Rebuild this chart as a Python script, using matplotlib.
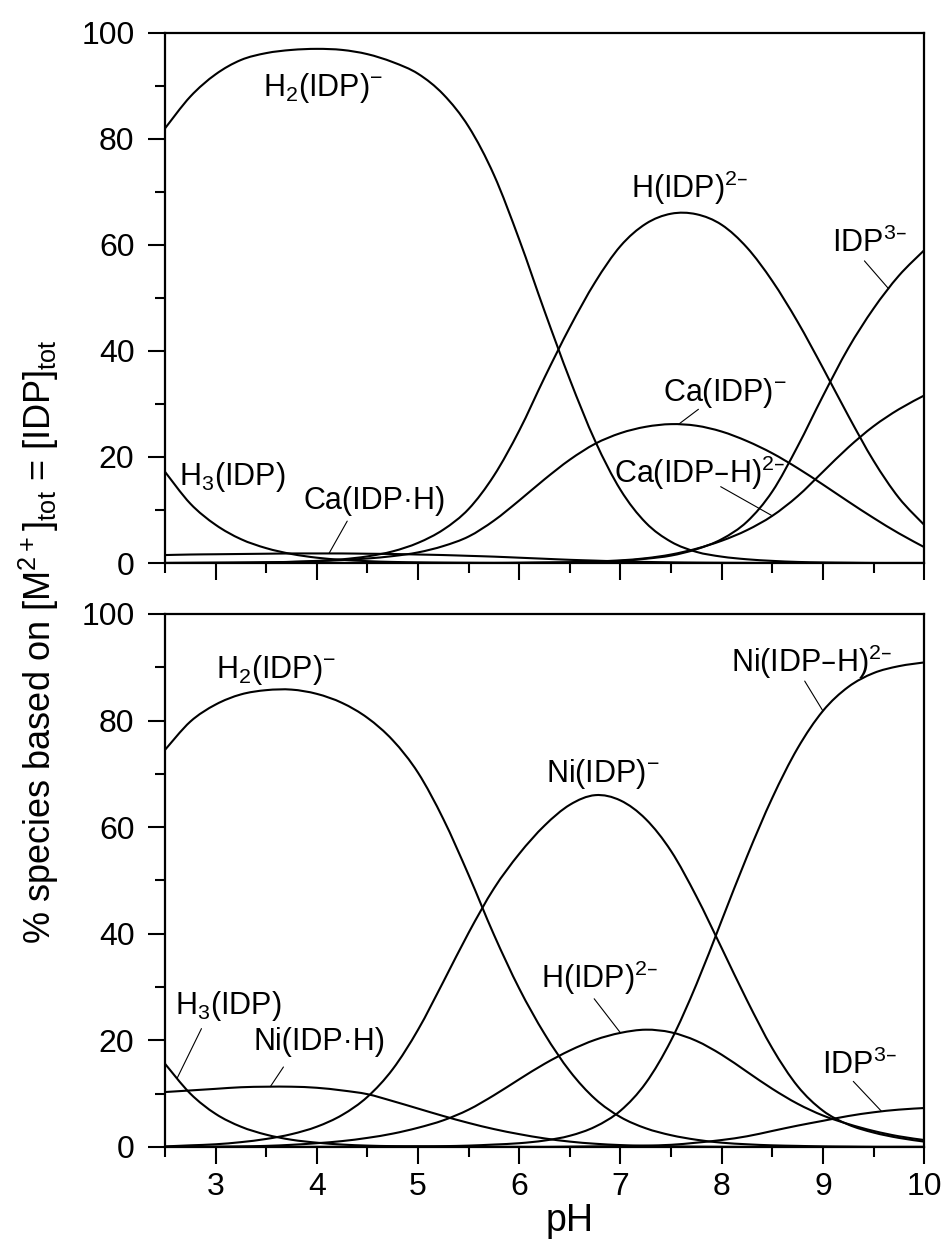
import numpy as np
import matplotlib
matplotlib.use("Agg")
import matplotlib.pyplot as plt
from matplotlib.path import Path
from matplotlib.patches import PathPatch
from matplotlib.ticker import MultipleLocator

plt.rcParams['font.family'] = ['Liberation Sans', 'DejaVu Sans']
plt.rcParams['mathtext.default'] = 'regular'

# pH sampling grid (2.5 ... 10.0 in steps of 0.25)
ph = np.linspace(2.5, 10.0, 31)

# ---- Ca2+ / IDP system: % species ----
ca_h3l = [17.2, 11.2, 7.2, 4.5, 2.8, 1.7, 1.0, 0.6, 0.35, 0.2, 0.12, 0.07, 0.04, 0.02, 0.01,
          0, 0, 0, 0, 0, 0, 0, 0, 0, 0, 0, 0, 0, 0, 0, 0]
ca_h2l = [82.0, 88.0, 92.2, 94.9, 96.2, 96.8, 97.0, 96.8, 96.0, 94.5, 92.3, 88.4, 82.3, 73.2,
          61.0, 47.5, 34.6, 23.0, 13.8, 7.6, 4.0, 2.1, 1.2, 0.7, 0.4, 0.2, 0.1, 0.05, 0, 0, 0]
ca_hl = [0.0, 0.02, 0.04, 0.07, 0.12, 0.22, 0.4, 0.7, 1.25, 2.2, 3.8, 6.3, 10.2, 16.5, 25.0,
         35.0, 44.5, 53.0, 59.8, 64.0, 65.9, 65.8, 63.8, 59.5, 53.2, 45.5, 36.8, 27.8, 19.3,
         12.3, 7.2]
ca_l = [0, 0, 0, 0, 0, 0, 0, 0, 0, 0, 0, 0, 0, 0, 0,
        0.05, 0.1, 0.2, 0.4, 0.8, 1.4, 2.6, 4.5, 7.8, 13.5, 22.0, 31.5, 40.5, 48.0, 54.2, 59.0]
ca_ml = [0.0, 0.02, 0.04, 0.07, 0.12, 0.2, 0.35, 0.55, 0.85, 1.3, 2.0, 3.2, 5.0, 8.0, 11.8,
         15.8, 19.5, 22.5, 24.5, 25.7, 26.2, 25.9, 24.8, 23.0, 20.7, 17.9, 14.8, 11.6, 8.5,
         5.6, 3.0]
ca_mhl = [1.5, 1.6, 1.65, 1.7, 1.75, 1.8, 1.8, 1.8, 1.75, 1.7, 1.6, 1.5, 1.35, 1.2, 1.0,
          0.8, 0.6, 0.45, 0.3, 0.2, 0.12, 0.07, 0.04, 0.02, 0, 0, 0, 0, 0, 0, 0]
ca_mlh = [0, 0, 0, 0, 0, 0, 0, 0, 0, 0, 0, 0, 0, 0,
          0.05, 0.1, 0.15, 0.3, 0.5, 0.9, 1.6, 2.7, 4.2, 6.2, 8.9, 12.6, 17.2, 21.8, 25.8,
          29.0, 31.6]

# ---- Ni2+ / IDP system: % species ----
ni_h3l = [15.6, 10.0, 6.2, 3.8, 2.3, 1.35, 0.8, 0.45, 0.25, 0.15, 0.1, 0.05, 0.03, 0.02, 0.01,
          0, 0, 0, 0, 0, 0, 0, 0, 0, 0, 0, 0, 0, 0, 0, 0]
ni_h2l = [74.5, 79.8, 83.0, 84.9, 85.7, 85.8, 85.0, 83.3, 80.5, 76.3, 70.2, 61.5, 51.0, 39.8,
          29.7, 21.2, 14.2, 9.0, 5.6, 3.5, 2.2, 1.35, 0.8, 0.5, 0.3, 0.2, 0.1, 0.05, 0, 0, 0]
ni_hl = [0.0, 0.02, 0.05, 0.1, 0.2, 0.4, 0.7, 1.1, 1.7, 2.5, 3.6, 5.0, 7.0, 9.7, 12.7, 15.6,
         18.1, 20.1, 21.4, 22.0, 21.5, 19.9, 17.3, 14.1, 10.9, 8.1, 5.9, 4.3, 3.0, 2.0, 1.3]
ni_ml = [0.1, 0.3, 0.5, 0.9, 1.5, 2.4, 3.8, 6.0, 9.4, 14.6, 22.0, 31.0, 40.2, 48.5, 55.0,
         60.3, 64.2, 66.0, 65.0, 61.5, 55.5, 47.0, 37.3, 27.5, 18.5, 11.4, 6.8, 4.2, 2.7,
         1.7, 1.0]
ni_mhl = [10.3, 10.6, 10.9, 11.2, 11.3, 11.3, 11.1, 10.6, 9.9, 8.6, 7.2, 5.8, 4.5, 3.35, 2.4,
          1.6, 1.0, 0.6, 0.35, 0.2, 0.1, 0.05, 0.02, 0, 0, 0, 0, 0, 0, 0, 0]
ni_mlh = [0, 0, 0, 0, 0, 0, 0.01, 0.02, 0.04, 0.06, 0.1, 0.15, 0.25, 0.45, 0.7, 1.2, 2.1,
          3.8, 6.8, 12.0, 20.0, 30.5, 42.5, 54.5, 65.5, 74.8, 81.8, 86.3, 88.9, 90.2, 90.9]
ni_l = [0, 0, 0, 0, 0, 0, 0, 0, 0, 0, 0, 0, 0, 0, 0, 0,
        0.05, 0.1, 0.15, 0.25, 0.4, 0.8, 1.3, 2.0, 3.0, 4.0, 4.9, 5.8, 6.5, 7.0, 7.3]

# species names
H3L = 'H$_3$(IDP)'
H2L = 'H$_2$(IDP)$^{-}$'
HL = 'H(IDP)$^{2\u2013}$'
L = 'IDP$^{3\u2013}$'

# (series, label, text x, text baseline y, leader start or None, leader end x)
ca_species = [
    (ca_h2l, H2L, 4.06, 88.2, None, None),
    (ca_h3l, H3L, 3.16, 14.8, None, None),
    (ca_mhl, 'Ca(IDP\u00b7H)', 4.57, 10.2, (4.30, 7.9), 4.12),
    (ca_hl, HL, 7.68, 68.9, None, None),
    (ca_l, L, 9.46, 58.7, (9.41, 57.0), 9.65),
    (ca_ml, 'Ca(IDP)$^{-}$', 8.03, 30.5, (7.77, 29.0), 7.57),
    (ca_mlh, 'Ca(IDP\u2013H)$^{2\u2013}$', 7.78, 15.1, (7.99, 14.4), 8.50),
]
ni_species = [
    (ni_h2l, H2L, 3.60, 87.9, None, None),
    (ni_h3l, H3L, 3.12, 25.0, (2.86, 22.2), 2.62),
    (ni_mhl, 'Ni(IDP\u00b7H)', 4.03, 18.1, (3.67, 15.0), 3.54),
    (ni_ml, 'Ni(IDP)$^{-}$', 6.83, 68.4, None, None),
    (ni_hl, HL, 6.79, 29.8, (6.74, 27.8), 7.00),
    (ni_mlh, 'Ni(IDP\u2013H)$^{2\u2013}$', 8.89, 89.1, (8.82, 87.4), 9.00),
    (ni_l, L, 9.36, 13.6, (9.30, 12.3), 9.58),
]

FS = 23
FS_LABEL = 27


def spline_path(x, y):
    """Smooth (Catmull-Rom style) connecting path through every data point."""
    x = np.asarray(x, float)
    y = np.asarray(y, float)
    n = len(x)
    verts = [(x[0], y[0])]
    codes = [Path.MOVETO]
    for i in range(n - 1):
        i0 = max(i - 1, 0)
        i3 = min(i + 2, n - 1)
        c1 = (x[i] + (x[i + 1] - x[i0]) / 6.0, y[i] + (y[i + 1] - y[i0]) / 6.0)
        c2 = (x[i + 1] - (x[i3] - x[i]) / 6.0, y[i + 1] - (y[i3] - y[i]) / 6.0)
        verts += [c1, c2, (x[i + 1], y[i + 1])]
        codes += [Path.CURVE4] * 3
    return Path(verts, codes)


fig = plt.figure(figsize=(9.43, 12.39), dpi=100)
ax1 = fig.add_axes([0.175, 0.5456, 0.805, 0.4278])
ax2 = fig.add_axes([0.175, 0.0743, 0.805, 0.4302])


def draw_panel(ax, species):
    for series, label, tx, ty, lead, lead_x in species:
        ax.add_patch(PathPatch(spline_path(ph, series), fill=False, edgecolor='black',
                               lw=1.5, capstyle='butt'))
        ax.text(tx, ty, label, fontsize=FS - 1, ha='center', va='baseline')
        if lead is not None:
            ax.annotate('', xy=(lead_x, np.interp(lead_x, ph, series)), xytext=lead,
                        arrowprops=dict(arrowstyle='-', lw=0.8, color='black',
                                        shrinkA=0, shrinkB=0))
    ax.set_xlim(2.5, 10.0)
    ax.set_ylim(0, 100)
    ax.xaxis.set_major_locator(MultipleLocator(1))
    ax.xaxis.set_minor_locator(MultipleLocator(0.5))
    ax.yaxis.set_major_locator(MultipleLocator(20))
    ax.yaxis.set_minor_locator(MultipleLocator(10))
    ax.tick_params(which='both', direction='out', top=False, right=False,
                   width=1.5, labelsize=FS, color='black')
    ax.tick_params(which='major', length=12)
    ax.tick_params(which='minor', length=7)
    ax.tick_params(axis='y', pad=10)
    ax.tick_params(axis='x', pad=6)
    for sp in ax.spines.values():
        sp.set_linewidth(1.6)


draw_panel(ax1, ca_species)
draw_panel(ax2, ni_species)
ax1.tick_params(labelbottom=False)

ax2.set_xlabel('pH', fontsize=FS_LABEL)
ax2.xaxis.set_label_coords((6.5 - 2.5) / 7.5, -0.105)

fig.text(0.041, 0.482, '% species based on [M$^{2+}$]$_{tot}$ = [IDP]$_{tot}$',
         rotation=90, ha='center', va='center', fontsize=26)

fig.savefig('out.png', dpi=100)
